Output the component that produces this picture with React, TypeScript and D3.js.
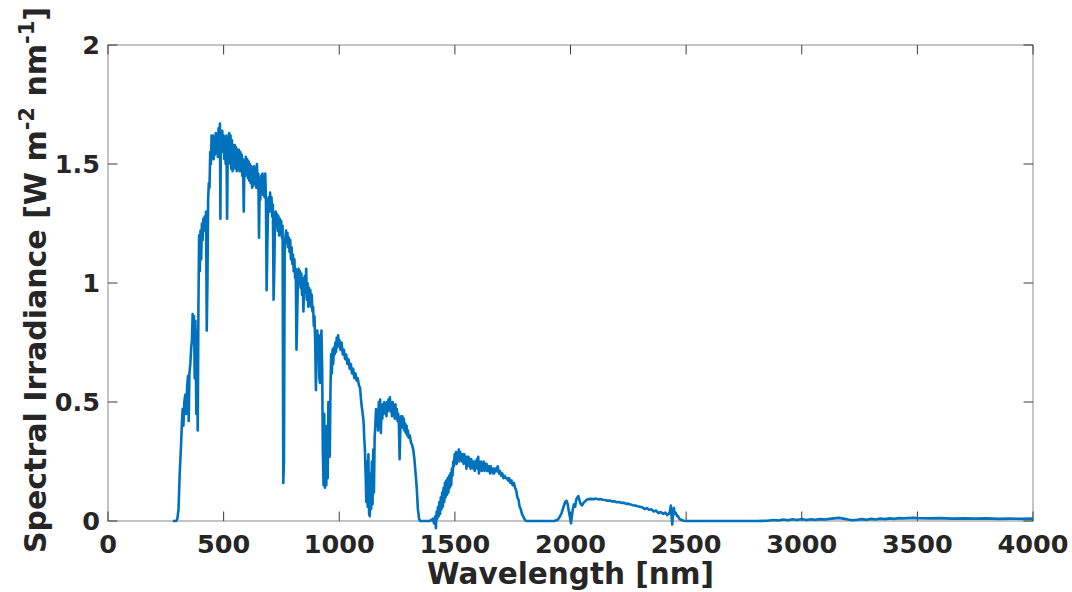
import React from "react";
import * as d3 from "d3";

// Spectral irradiance (W m^-2 nm^-1), by band: [wavelength nm, value]
const uvVisBand: [number, number][] = [
  [280, 0], [295, 0], [300, 0.01], [305, 0.05], [310, 0.2], [315, 0.3], [320, 0.42], [323, 0.47], [326, 0.4],
  [330, 0.5], [334, 0.53], [338, 0.45], [342, 0.56], [346, 0.61], [349, 0.42], [352, 0.62], [356, 0.66],
  [360, 0.73], [363, 0.76], [366, 0.87], [369, 0.82], [372, 0.86], [375, 0.6], [378, 0.84], [382, 0.45],
  [385, 0.8], [388, 0.38], [391, 0.9], [394, 1.2], [397, 1.05], [400, 1.22], [403, 1.1], [406, 1.25],
  [409, 1.18], [412, 1.27], [415, 1.22], [418, 1.28], [421, 1.24], [424, 1.3], [427, 0.8], [430, 1.0],
  [433, 1.35], [436, 1.42], [439, 1.4], [442, 1.55], [445, 1.5], [448, 1.62], [451, 1.55], [454, 1.62],
  [457, 1.52], [460, 1.6], [463, 1.54], [466, 1.63], [469, 1.55], [472, 1.62], [475, 1.53], [478, 1.65],
  [481, 1.58], [484, 1.67], [486, 1.27], [488, 1.6], [491, 1.55], [494, 1.64], [497, 1.57], [500, 1.62],
  [503, 1.52], [506, 1.6], [509, 1.5], [512, 1.62], [515, 1.27], [518, 1.58], [521, 1.5], [524, 1.63],
  [527, 1.56], [530, 1.62], [533, 1.48], [536, 1.6], [539, 1.47], [542, 1.58], [545, 1.49], [548, 1.58],
  [551, 1.48], [554, 1.57], [557, 1.47], [560, 1.56], [563, 1.49], [566, 1.56], [569, 1.47], [572, 1.55],
  [575, 1.47], [578, 1.54], [581, 1.45], [584, 1.52], [587, 1.3], [590, 1.5], [593, 1.45], [596, 1.53],
  [599, 1.46], [602, 1.52], [605, 1.44], [608, 1.51], [611, 1.43], [614, 1.5], [617, 1.42], [620, 1.49],
  [623, 1.4], [626, 1.48], [629, 1.41], [632, 1.49], [635, 1.42], [638, 1.47], [641, 1.4], [644, 1.5],
  [647, 1.41], [650, 1.46], [653, 1.19], [656, 1.4], [659, 1.35], [662, 1.45], [665, 1.38], [668, 1.46],
  [671, 1.37], [674, 1.45], [677, 1.36], [680, 1.46], [683, 1.35], [686, 0.97], [689, 1.15], [692, 1.3],
  [695, 1.36], [698, 1.3], [701, 1.38], [704, 1.31], [707, 1.36], [710, 1.28], [713, 1.33], [716, 0.93],
  [719, 1.05], [722, 1.25], [725, 1.3], [728, 1.24], [731, 1.29], [734, 1.22], [737, 1.28], [740, 1.2],
  [743, 1.27], [746, 1.21], [749, 1.26], [752, 1.19], [755, 1.24], [758, 0.16], [761, 0.25], [764, 1.12],
  [767, 1.19], [770, 1.22], [773, 1.17], [776, 1.21], [779, 1.15], [782, 1.19], [785, 1.13], [788, 1.18],
  [791, 1.1], [794, 1.15], [797, 1.08], [800, 1.12], [803, 1.05], [806, 1.1], [809, 1.02], [812, 1.06],
  [815, 0.72], [818, 0.85], [821, 1.0], [824, 1.06], [827, 1.0], [830, 1.05],
];

const nirBand: [number, number][] = [
  [833, 0.98], [836, 1.04], [839, 0.95], [842, 1.02], [845, 0.88], [848, 0.97], [851, 1.03], [854, 0.96],
  [857, 1.06], [860, 0.93], [863, 1.0], [866, 0.9], [869, 0.98], [872, 0.94], [875, 0.97], [878, 0.9],
  [881, 0.95], [884, 0.88], [887, 0.9], [890, 0.82], [893, 0.86], [896, 0.75], [899, 0.55], [902, 0.7],
  [905, 0.8], [908, 0.72], [911, 0.78], [914, 0.6], [917, 0.58], [920, 0.75], [923, 0.8], [926, 0.65],
  [929, 0.3], [932, 0.15], [935, 0.45], [938, 0.14], [941, 0.35], [944, 0.15], [947, 0.4], [950, 0.18],
  [953, 0.5], [956, 0.3], [959, 0.27], [962, 0.55], [965, 0.7], [968, 0.62], [971, 0.72], [974, 0.66],
  [977, 0.73], [980, 0.7], [983, 0.75], [986, 0.71], [989, 0.77], [992, 0.73], [995, 0.78], [998, 0.74],
  [1001, 0.76], [1005, 0.72], [1010, 0.75], [1015, 0.7], [1020, 0.72], [1025, 0.68], [1030, 0.7], [1035, 0.66],
  [1040, 0.68], [1045, 0.64], [1050, 0.66], [1055, 0.62], [1060, 0.64], [1065, 0.6], [1070, 0.62], [1075, 0.59],
  [1080, 0.6], [1085, 0.57], [1090, 0.56], [1095, 0.5], [1100, 0.46], [1105, 0.42], [1108, 0.35], [1111, 0.3],
  [1114, 0.2], [1117, 0.08], [1120, 0.25], [1123, 0.06], [1126, 0.28], [1129, 0.03], [1132, 0.02], [1135, 0.2],
  [1138, 0.05], [1141, 0.25], [1144, 0.07], [1147, 0.3], [1150, 0.12], [1153, 0.35], [1156, 0.4], [1159, 0.47],
  [1162, 0.42], [1165, 0.46], [1168, 0.38], [1171, 0.5], [1174, 0.45], [1177, 0.51], [1180, 0.37], [1183, 0.47],
  [1186, 0.43], [1189, 0.49], [1192, 0.45], [1195, 0.5], [1198, 0.46], [1201, 0.49], [1204, 0.44], [1207, 0.5],
  [1210, 0.46], [1213, 0.51], [1216, 0.47], [1219, 0.52], [1222, 0.46], [1225, 0.49], [1228, 0.44], [1231, 0.5],
  [1234, 0.45], [1237, 0.48], [1240, 0.43], [1243, 0.49], [1246, 0.44], [1249, 0.47], [1252, 0.42], [1255, 0.45],
  [1258, 0.4], [1261, 0.26], [1264, 0.38], [1267, 0.44], [1270, 0.4], [1273, 0.44], [1276, 0.39], [1279, 0.43],
  [1282, 0.38], [1285, 0.41], [1288, 0.37], [1291, 0.4], [1294, 0.36], [1297, 0.38], [1300, 0.35], [1305, 0.36],
  [1310, 0.33], [1315, 0.32], [1320, 0.3], [1325, 0.26], [1330, 0.2], [1335, 0.14], [1340, 0.05], [1345, 0.01],
  [1350, 0],
];

const swirBand1: [number, number][] = [
  [1370, 0], [1390, 0], [1400, 0.005], [1405, 0.01], [1410, -0.01], [1415, 0.02], [1418, -0.03], [1421, 0.04],
  [1424, 0.01], [1427, 0.06], [1430, 0.02], [1433, 0.08], [1436, 0.03], [1439, 0.1], [1442, 0.05], [1445, 0.12],
  [1448, 0.06], [1451, 0.14], [1454, 0.08], [1457, 0.16], [1460, 0.1], [1463, 0.17], [1466, 0.11], [1469, 0.18],
  [1472, 0.12], [1475, 0.19], [1478, 0.14], [1481, 0.2], [1484, 0.15], [1487, 0.22], [1490, 0.19], [1493, 0.25],
  [1496, 0.23], [1499, 0.28], [1502, 0.25], [1505, 0.29], [1508, 0.24], [1511, 0.28], [1514, 0.26], [1517, 0.3],
  [1520, 0.25], [1523, 0.29], [1526, 0.26], [1529, 0.28], [1532, 0.25], [1535, 0.28], [1538, 0.24], [1541, 0.28],
  [1544, 0.25], [1547, 0.27], [1550, 0.22], [1553, 0.27], [1556, 0.24], [1559, 0.27], [1562, 0.23], [1565, 0.26],
  [1568, 0.22], [1571, 0.26], [1574, 0.23], [1577, 0.25], [1580, 0.22], [1583, 0.25], [1586, 0.21], [1589, 0.25],
  [1592, 0.23], [1595, 0.26], [1598, 0.22], [1601, 0.27], [1604, 0.2], [1607, 0.24], [1610, 0.22], [1613, 0.25],
  [1616, 0.21], [1619, 0.24], [1622, 0.22], [1625, 0.25], [1628, 0.21], [1631, 0.24], [1634, 0.22], [1637, 0.24],
  [1640, 0.21], [1643, 0.23], [1646, 0.21], [1649, 0.23], [1652, 0.2], [1655, 0.23], [1658, 0.21], [1661, 0.22],
  [1664, 0.2], [1667, 0.22], [1670, 0.2], [1675, 0.22], [1680, 0.21], [1685, 0.23], [1690, 0.2], [1695, 0.21],
  [1700, 0.19], [1705, 0.2], [1710, 0.18], [1715, 0.19], [1720, 0.18], [1725, 0.18], [1730, 0.17], [1735, 0.18],
  [1740, 0.16], [1745, 0.17], [1750, 0.15], [1755, 0.16], [1760, 0.14], [1765, 0.13], [1770, 0.1], [1775, 0.09],
  [1780, 0.06], [1785, 0.05], [1790, 0.03], [1795, 0.02], [1800, 0.01], [1805, 0.003], [1810, 0], [1850, 0],
  [1900, 0], [1930, 0], [1945, 0.005],
];

const swirBand2: [number, number][] = [
  [1955, 0.02], [1962, 0.035], [1970, 0.06], [1977, 0.08], [1983, 0.085], [1988, 0.07], [1993, 0.04], [1998, 0.015],
  [2002, -0.01], [2006, 0.02], [2010, 0.05], [2015, 0.07], [2020, 0.06], [2025, 0.09], [2030, 0.1], [2034, 0.105],
  [2038, 0.09], [2042, 0.075], [2046, 0.07], [2050, 0.065], [2055, 0.075], [2060, 0.08], [2066, 0.085], [2072, 0.09],
  [2080, 0.092], [2090, 0.093], [2100, 0.092], [2110, 0.094], [2120, 0.091], [2130, 0.092], [2140, 0.089], [2150, 0.088],
  [2160, 0.085], [2170, 0.086], [2180, 0.082], [2190, 0.083], [2200, 0.079], [2210, 0.08], [2220, 0.076], [2230, 0.077],
  [2240, 0.072], [2250, 0.073], [2260, 0.069], [2270, 0.066], [2280, 0.065], [2290, 0.062], [2300, 0.06], [2310, 0.058],
  [2320, 0.05], [2330, 0.054], [2340, 0.047], [2350, 0.049], [2360, 0.04], [2370, 0.044], [2380, 0.033], [2390, 0.038],
  [2400, 0.03], [2410, 0.035], [2418, 0.025], [2425, 0.03], [2430, 0.04], [2434, 0.065], [2437, 0.02], [2440, -0.015],
  [2443, 0.03], [2447, 0.055], [2450, 0.03], [2455, 0.035], [2460, 0.022], [2465, 0.02], [2470, 0.01], [2480, 0.004],
  [2490, 0.001], [2500, 0],
];

const mirBand: [number, number][] = [
  [2600, 0], [2700, 0], [2800, 0], [2850, 0.001], [2880, 0.004], [2900, 0.002], [2920, 0.006], [2940, 0.003],
  [2960, 0.007], [2980, 0.004], [3000, 0.008], [3020, 0.004], [3040, 0.007], [3060, 0.005], [3080, 0.008], [3100, 0.006],
  [3120, 0.009], [3140, 0.011], [3160, 0.013], [3180, 0.01], [3200, 0.006], [3220, 0.003], [3240, 0.005], [3260, 0.008],
  [3280, 0.005], [3300, 0.009], [3320, 0.006], [3340, 0.01], [3360, 0.008], [3380, 0.011], [3400, 0.009], [3420, 0.012],
  [3440, 0.011], [3460, 0.012], [3480, 0.013], [3500, 0.012], [3550, 0.011], [3600, 0.012], [3650, 0.01], [3700, 0.011],
  [3750, 0.01], [3800, 0.011], [3850, 0.009], [3900, 0.01], [3950, 0.009], [4000, 0.01],
];

const xTicks = [0, 500, 1000, 1500, 2000, 2500, 3000, 3500, 4000];
const yTicks = [0, 0.5, 1, 1.5, 2];
const yTickLabels = ["0", "0.5", "1", "1.5", "2"];

const W = 1072;
const H = 592;
const M = { left: 108, right: 1033, top: 45, bottom: 521 };
const FONT = "'DejaVu Sans', sans-serif";
const TEXT = "#262626";

export default function App() {
  const data = [...uvVisBand, ...nirBand, ...swirBand1, ...swirBand2, ...mirBand];
  const x = d3.scaleLinear().domain([0, 4000]).range([M.left, M.right]);
  const y = d3.scaleLinear().domain([0, 2]).range([M.bottom, M.top]);
  const line = d3
    .line<[number, number]>()
    .x((d) => x(d[0]))
    .y((d) => y(d[1]));
  const tl = 9.5;
  return (
    <svg width={W} height={H} style={{ position: "absolute", left: 0, top: 0, background: "#fff" }}>
      <rect x={0} y={0} width={W} height={H} fill="#fff" />
      {/* box */}
      <rect
        x={M.left}
        y={M.top}
        width={M.right - M.left}
        height={M.bottom - M.top}
        fill="none"
        stroke="#8a8a8a"
        strokeWidth={1}
      />
      {/* ticks */}
      {xTicks.map((t) => (
        <g key={"xt" + t} stroke="#3a3a3a" strokeWidth={1}>
          <line x1={x(t)} x2={x(t)} y1={M.bottom} y2={M.bottom - tl} />
          <line x1={x(t)} x2={x(t)} y1={M.top} y2={M.top + tl} />
        </g>
      ))}
      {yTicks.map((t) => (
        <g key={"yt" + t} stroke="#3a3a3a" strokeWidth={1}>
          <line x1={M.left} x2={M.left + tl} y1={y(t)} y2={y(t)} />
          <line x1={M.right} x2={M.right - tl} y1={y(t)} y2={y(t)} />
        </g>
      ))}
      {/* data line */}
      <path d={line(data) || ""} fill="none" stroke="#0072BD" strokeWidth={2.6} strokeLinejoin="round" />
      {/* tick labels */}
      {xTicks.map((t) => (
        <text
          key={"xl" + t}
          x={x(t)}
          y={M.bottom + 32}
          textAnchor="middle"
          fontFamily={FONT}
          fontWeight="bold"
          fontSize={25.5}
          fill={TEXT}
        >
          {String(t)}
        </text>
      ))}
      {yTicks.map((t, i) => (
        <text
          key={"yl" + t}
          x={M.left - 8}
          y={y(t)}
          dy="0.36em"
          textAnchor="end"
          fontFamily={FONT}
          fontWeight="bold"
          fontSize={25.5}
          fill={TEXT}
        >
          {yTickLabels[i]}
        </text>
      ))}
      {/* axis labels */}
      <text
        x={(M.left + M.right) / 2}
        y={584}
        textAnchor="middle"
        fontFamily={FONT}
        fontWeight="bold"
        fontSize={29.5}
        fill={TEXT}
      >
        Wavelength [nm]
      </text>
      <text
        transform={`translate(46, ${(M.top + M.bottom) / 2 - 3}) rotate(-90)`}
        textAnchor="middle"
        fontFamily={FONT}
        fontWeight="bold"
        fontSize={30}
        fill={TEXT}
      >
        Spectral Irradiance [W m
        <tspan dy="-12" fontSize={21}>-2</tspan>
        <tspan dy="12"> nm</tspan>
        <tspan dy="-12" fontSize={21}>-1</tspan>
        <tspan dy="12">]</tspan>
      </text>
    </svg>
  );
}
